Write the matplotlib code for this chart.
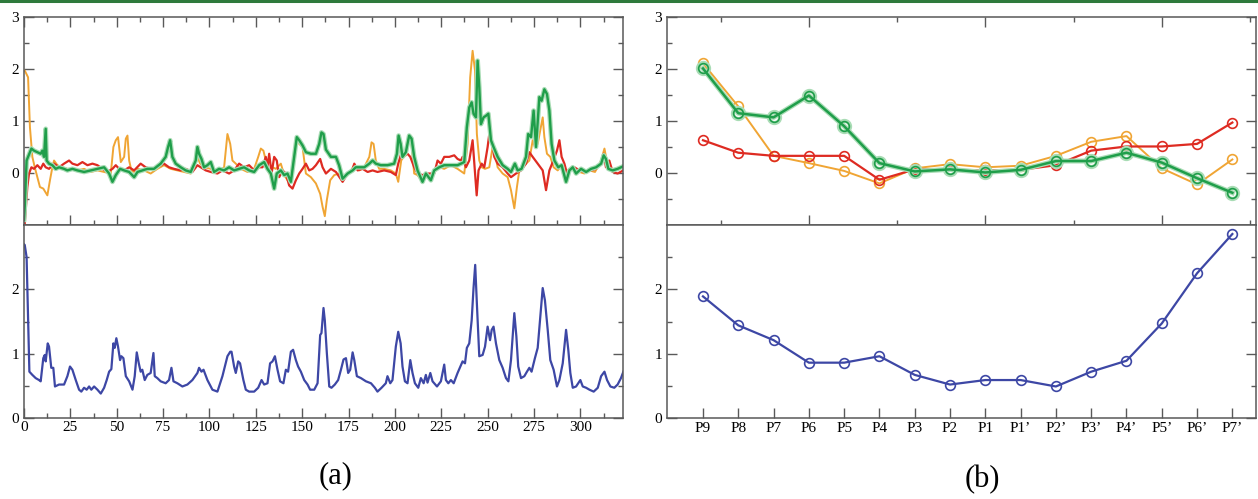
import matplotlib
matplotlib.use("Agg")
import matplotlib.pyplot as plt
import matplotlib.patheffects as pe
from matplotlib.ticker import MultipleLocator, FixedLocator, NullFormatter

# ---- panel (a): per-residue traces (frame index, value) ----
blue_x = [0.0, 0.4, 1.4, 2.2, 2.9, 4.5, 6.3, 8.1, 9.0, 10.4, 11.2, 11.7, 12.8, 13.5, 14.7, 15.8, 16.7, 18.9,
          21.6, 23.4, 24.8, 26.1, 27.9, 29.7, 30.9, 32.4, 33.8, 35.1, 36.3, 37.8, 39.6, 41.4, 43.2, 44.6,
          45.9, 47.1, 48.2, 48.9, 49.8, 50.7, 51.8, 52.5, 53.6, 54.9, 56.7, 58.5, 59.7, 60.8, 61.9, 62.9,
          63.8, 65.1, 66.5, 68.3, 69.8, 70.5, 71.9, 73.7, 76.4, 78.2, 79.5, 80.6, 82.7, 85.4, 88.1, 90.8,
          93.5, 94.4, 95.7, 96.8, 98.9, 101.6, 104.3, 107.0, 109.7, 111.2, 111.9, 113.3, 114.2, 115.5,
          116.5, 118.3, 119.6, 121.4, 124.1, 126.3, 128.1, 129.5, 131.3, 132.7, 134.0, 135.3, 136.7,
          138.1, 139.9, 141.2, 142.4, 143.9, 145.1, 146.6, 147.8, 149.3, 151.1, 152.9, 154.3, 156.5,
          158.3, 159.7, 160.4, 161.5, 162.2, 163.3, 164.6, 165.8, 167.6, 169.4, 170.9, 172.3, 173.6,
          174.8, 175.9, 177.2, 178.1, 179.5, 181.7, 184.4, 187.1, 189.2, 190.6, 192.8, 195.1, 196.0,
          197.5, 198.7, 200.5, 201.8, 203.1, 204.1, 205.4, 206.8, 208.3, 209.5, 210.8, 212.6, 214.0,
          215.5, 216.7, 217.6, 219.1, 220.3, 222.7, 224.8, 226.6, 227.5, 228.8, 230.2, 231.7, 233.8,
          236.5, 237.8, 238.8, 240.1, 241.4, 242.4, 243.3, 244.2, 245.5, 247.3, 248.6, 250.0, 251.3,
          252.2, 253.2, 254.5, 256.3, 258.1, 259.9, 261.2, 262.6, 264.4, 265.5, 266.5, 268.0, 269.8,
          271.2, 272.5, 273.7, 275.5, 277.0, 278.4, 279.7, 280.9, 282.4, 283.8, 285.6, 287.4, 288.7,
          290.5, 292.3, 293.5, 294.6, 295.9, 297.7, 300.0, 301.3, 303.1, 304.9, 307.2, 309.4, 311.2,
          313.0, 314.4, 316.2, 318.3, 320.1, 321.9, 323.2]
blue_y = [2.70, 2.69, 2.50, 1.52, 0.72, 0.67, 0.62, 0.59, 0.57, 0.93, 0.98, 0.88, 1.16, 1.11, 0.78, 0.78, 0.49, 0.52,
          0.52, 0.65, 0.80, 0.75, 0.59, 0.44, 0.41, 0.47, 0.44, 0.49, 0.44, 0.49, 0.44, 0.38, 0.47, 0.59,
          0.72, 0.76, 1.16, 1.09, 1.24, 1.11, 0.90, 0.96, 0.93, 0.65, 0.57, 0.44, 0.65, 1.02, 0.85, 0.72,
          0.75, 0.59, 0.67, 0.70, 1.01, 0.65, 0.62, 0.57, 0.54, 0.59, 0.78, 0.57, 0.54, 0.49, 0.52, 0.59,
          0.70, 0.78, 0.72, 0.75, 0.59, 0.44, 0.41, 0.65, 0.96, 1.03, 1.03, 0.80, 0.70, 0.88,
          0.85, 0.59, 0.44, 0.41, 0.41, 0.47, 0.59, 0.52, 0.54, 0.85, 0.88, 0.96, 0.75,
          0.57, 0.54, 0.75, 0.72, 1.03, 1.06, 0.90, 0.80, 0.72, 0.59, 0.52, 0.44, 0.44,
          0.54, 1.29, 1.32, 1.71, 1.52, 1.01, 0.49, 0.47, 0.52, 0.59, 0.75, 0.91, 0.93,
          0.70, 0.75, 1.02, 0.90, 0.65, 0.62, 0.57, 0.54, 0.47, 0.41, 0.47, 0.54, 0.65,
          0.54, 0.59, 1.11, 1.34, 1.16, 0.80, 0.57, 0.54, 0.90, 0.70, 0.54, 0.47, 0.62,
          0.54, 0.67, 0.55, 0.70, 0.57, 0.49, 0.57, 0.83, 0.59, 0.54, 0.59, 0.54, 0.70,
          0.88, 0.85, 1.09, 1.16, 1.52, 2.02, 2.38, 1.78, 0.96, 0.98, 1.11, 1.42, 1.21,
          1.37, 1.42, 1.16, 0.90, 0.78, 0.62, 0.57, 0.90, 1.63, 1.27, 0.80, 0.62, 0.65,
          0.72, 0.78, 0.72, 0.93, 1.09, 1.58, 2.02, 1.83, 1.37, 0.90, 0.75, 0.49, 0.59,
          0.85, 1.37, 1.06, 0.70, 0.47, 0.49, 0.59, 0.49, 0.47, 0.44, 0.41, 0.47, 0.65,
          0.72, 0.59, 0.49, 0.47, 0.52, 0.62, 0.72]

orange_x = [0.0, 0.4, 2.2, 3.2, 4.5, 5.8, 7.2, 8.6, 10.4, 12.6, 14.0, 15.3, 16.2, 18.0, 20.7, 23.4, 26.1, 28.8,
            32.4, 36.0, 39.6, 43.2, 46.8, 48.2, 49.5, 50.7, 52.2, 54.0, 54.9, 55.8, 56.7, 57.9, 59.4, 61.2,
            64.7, 68.3, 71.9, 75.5, 79.1, 82.7, 86.3, 89.9, 93.5, 95.0, 97.1, 100.7, 104.3, 107.9, 109.7,
            111.2, 112.4, 114.2, 116.9, 120.5, 124.1, 126.3, 127.7, 129.1, 130.4, 132.2, 134.0, 135.8,
            138.5, 140.3, 142.1, 143.9, 145.7, 147.1, 148.4, 150.2, 152.0, 154.7, 157.4, 159.7, 161.0,
            162.2, 163.3, 165.1, 167.3, 169.9, 172.7, 175.4, 178.1, 180.8, 183.5, 184.4, 186.2, 187.4,
            188.5, 189.7, 191.5, 194.2, 197.8, 200.5, 201.8, 203.4, 204.7, 205.9, 207.7, 209.0, 210.4,
            212.2, 214.9, 216.7, 219.4, 221.2, 223.9, 226.6, 230.2, 233.8, 237.4, 239.2, 240.6, 241.9,
            243.2, 244.2, 245.5, 246.8, 248.6, 250.9, 252.7, 254.0, 255.4, 258.1, 260.8, 262.6, 264.4,
            265.8, 267.1, 269.8, 272.5, 274.3, 275.5, 277.0, 278.4, 279.7, 280.6, 282.0, 283.8, 285.6,
            287.8, 289.9, 291.7, 294.1, 296.8, 299.5, 302.2, 304.9, 307.9, 311.2, 313.0, 314.2, 315.6,
            318.3, 321.0, 323.2]
orange_y = [1.97, 1.97, 1.84, 0.88, 0.31, 0.11, -0.08, -0.27, -0.30, -0.43, -0.14, 0.11, 0.24, 0.15, 0.11, 0.08, 0.08, 0.05,
            0.08, 0.02, 0.05, 0.02, -0.01, 0.50, 0.63, 0.69, 0.21, 0.31, 0.66, 0.72, 0.24, 0.05, 0.02, 0.08,
            0.05, -0.01, 0.08, 0.15, 0.08, 0.05, 0.02, -0.01, 0.31, 0.18, 0.11, 0.08, 0.02, 0.11, 0.75,
            0.56, 0.24, 0.18, 0.08, 0.02, 0.08, 0.31, 0.47, 0.43, 0.24, -0.01, 0.11, 0.08,
            0.18, -0.04, -0.14, -0.17, 0.24, 0.63, 0.56, 0.50, -0.01, -0.08, -0.20, -0.40, -0.65,
            -0.83, -0.52, -0.14, -0.04, -0.01, -0.08, -0.01, 0.15, 0.05, 0.11, 0.18, 0.31, 0.59,
            0.56, 0.24, 0.08, 0.08, 0.05, -0.01, -0.17, 0.24, 0.31, 0.34, 0.63, 0.53, -0.01,
            -0.04, -0.17, -0.01, -0.11, 0.02, 0.11, 0.08, 0.15, 0.08, -0.01, 0.56, 1.84, 2.35,
            1.97, 0.75, 0.24, 0.11, 0.08, 0.11, 0.50, 0.37, 0.11, -0.01, -0.08, -0.33, -0.68,
            -0.27, 0.05, 0.15, 0.24, 0.63, 0.50, 0.56, 0.82, 1.07, 0.69, 0.37, 0.31, 0.11,
            0.05, 0.15, -0.01, 0.08, 0.05, 0.02, -0.01, 0.05, 0.02, 0.24, 0.47, 0.24, 0.11,
            0.05, 0.08, 0.11]

red_x = [0.0, 0.4, 1.8, 2.7, 4.0, 5.4, 7.2, 9.0, 10.4, 11.7, 13.5, 16.2, 18.9, 21.6, 24.3, 26.1, 28.8, 31.5,
         34.2, 36.9, 39.6, 42.3, 45.0, 47.7, 49.5, 51.3, 54.0, 56.7, 59.4, 62.9, 65.6, 68.3, 71.9, 75.5,
         78.2, 80.9, 84.5, 87.2, 90.8, 93.5, 95.3, 98.0, 100.7, 104.3, 107.0, 110.6, 113.3, 116.0, 118.7,
         121.4, 124.1, 126.8, 128.6, 130.4, 131.3, 132.2, 133.5, 134.9, 136.3, 137.6, 139.4, 141.2, 143.0,
         144.8, 146.6, 148.4, 150.2, 152.0, 153.8, 155.6, 157.4, 159.7, 161.0, 162.8, 165.5, 168.2, 171.8,
         174.5, 177.2, 178.1, 179.9, 182.6, 185.3, 188.0, 190.6, 194.2, 197.8, 200.5, 201.8, 203.4, 205.0,
         206.8, 208.3, 210.4, 212.2, 214.9, 217.6, 221.2, 223.0, 224.8, 226.6, 229.3, 232.0, 233.8, 235.6,
         236.5, 238.3, 240.1, 241.9, 243.2, 244.1, 245.1, 246.8, 248.2, 250.0, 250.9, 252.2, 253.6, 255.4,
         258.1, 260.8, 262.6, 265.3, 268.0, 270.7, 272.5, 274.3, 277.0, 279.7, 281.5, 283.3, 285.1, 287.4,
         288.7, 289.9, 291.4, 292.8, 295.0, 296.8, 299.5, 302.2, 305.8, 308.5, 311.2, 312.6, 313.8, 315.6,
         317.4, 320.1, 323.2]
red_y = [-1.0, -0.97, -0.27, -0.01, 0.11, 0.08, 0.15, 0.08, 0.18, 0.11, 0.08, 0.18, 0.11, 0.18, 0.24, 0.18, 0.15, 0.21,
         0.15, 0.18, 0.15, 0.08, 0.02, 0.08, 0.15, 0.08, 0.05, 0.11, 0.05, 0.18, 0.11, 0.08, 0.11, 0.18,
         0.11, 0.08, 0.05, 0.08, 0.02, 0.15, 0.11, 0.05, 0.02, -0.01, 0.05, -0.01, 0.05, 0.18, 0.11,
         0.15, 0.05, 0.11, 0.11, 0.31, 0.11, 0.37, -0.01, 0.31, 0.24, -0.08, 0.05, -0.01, -0.24,
         -0.30, -0.14, -0.01, 0.08, 0.18, 0.05, 0.08, 0.15, 0.27, 0.11, -0.01, 0.08, 0.02, -0.17,
         -0.01, 0.08, 0.18, 0.05, 0.08, 0.02, 0.05, 0.02, 0.05, 0.02, -0.04, 0.18, 0.37, 0.34,
         0.37, 0.31, 0.11, -0.01, -0.04, -0.01, -0.01, 0.24, 0.18, 0.31, 0.31, 0.34, 0.27, 0.24,
         0.31, 0.11, 0.24, 0.63, -0.01, -0.43, 0.05, 0.18, 0.11, 0.50, 0.75, 0.63, 0.31, 0.18,
         0.11, -0.01, -0.08, -0.01, 0.05, 0.18, 0.40, 0.31, 0.18, 0.05, -0.33, 0.05, 0.21, 0.43,
         0.63, 0.31, 0.18, -0.01, 0.08, 0.11, 0.05, 0.02, 0.05, 0.08, 0.18, 0.37, 0.11, 0.24,
         0.02, -0.01, 0.05]

green_x = [0.0, 0.4, 1.4, 2.2, 4.0, 5.4, 7.2, 9.0, 9.9, 10.8, 11.7, 12.2, 13.5, 15.3, 17.1, 18.9, 21.6, 23.4,
           26.1, 28.8, 32.4, 36.0, 39.6, 43.2, 45.9, 47.7, 49.5, 51.8, 54.0, 56.7, 59.4, 61.2, 63.8, 66.5,
           70.1, 73.7, 76.4, 77.7, 78.8, 80.0, 81.8, 84.5, 87.2, 89.9, 92.6, 93.5, 94.4, 95.7, 97.1, 98.9,
           100.7, 102.5, 105.2, 107.9, 110.6, 113.3, 116.0, 118.7, 121.4, 124.1, 126.8, 129.5, 131.3,
           133.1, 134.9, 136.3, 138.5, 140.3, 142.1, 143.9, 145.7, 147.1, 148.4, 150.2, 152.0, 154.7,
           157.4, 159.2, 160.4, 161.5, 162.8, 165.5, 168.2, 169.9, 171.8, 174.5, 177.2, 178.9, 183.5,
           186.2, 188.0, 189.7, 192.4, 196.0, 199.6, 201.1, 202.0, 203.1, 204.1, 205.9, 207.7, 209.0,
           210.4, 212.2, 214.9, 216.7, 219.4, 221.2, 223.9, 226.6, 230.2, 233.8, 237.4, 238.8, 240.1,
           241.4, 242.4, 243.7, 244.6, 245.5, 246.4, 247.8, 249.1, 250.4, 251.8, 253.2, 255.4, 258.1,
           260.8, 262.6, 264.7, 266.2, 268.3, 270.7, 271.9, 273.4, 274.8, 276.1, 277.9, 279.1, 280.6,
           282.0, 283.3, 284.5, 286.0, 288.1, 289.9, 292.3, 294.1, 295.9, 297.7, 300.4, 303.1, 305.8,
           308.5, 311.2, 312.6, 313.8, 315.1, 317.4, 320.1, 323.2]
green_y = [-0.9, -0.65, 0.24, 0.31, 0.47, 0.43, 0.40, 0.37, 0.43, 0.31, 0.85, 0.24, 0.18, 0.15, 0.08, 0.11, 0.08, 0.05,
           0.08, 0.05, 0.02, 0.05, 0.08, 0.11, -0.01, -0.17, -0.04, 0.08, 0.05, 0.02, -0.08, 0.02, 0.05, 0.08,
           0.08, 0.18, 0.31, 0.50, 0.63, 0.31, 0.18, 0.11, 0.05, 0.02, 0.24, 0.50, 0.37, 0.27, 0.11, 0.15,
           0.21, 0.02, 0.08, 0.05, 0.11, 0.05, 0.08, 0.11, 0.05, 0.02, 0.15, 0.21, 0.08,
           -0.01, -0.30, -0.01, 0.05, -0.04, -0.01, -0.17, 0.31, 0.69, 0.63, 0.53, 0.40, 0.37,
           0.37, 0.56, 0.78, 0.75, 0.45, 0.31, 0.31, 0.15, -0.11, -0.01, 0.05, 0.11, 0.11,
           0.18, 0.24, 0.18, 0.15, 0.15, 0.18, 0.37, 0.72, 0.56, 0.31, 0.40, 0.72, 0.66,
           0.31, 0.05, -0.17, -0.01, -0.14, 0.05, 0.11, 0.15, 0.15, 0.15, 0.21, 0.88, 1.26,
           1.36, 1.14, 1.07, 2.16, 1.65, 0.94, 1.07, 1.10, 1.14, 0.63, 0.50, 0.31, 0.15,
           0.08, 0.02, 0.18, 0.05, 0.08, 0.31, 0.75, 0.69, 1.20, 0.50, 1.46, 1.39, 1.61,
           1.52, 1.20, 0.56, 0.24, 0.11, 0.15, -0.17, 0.05, 0.11, -0.01, 0.08, 0.02, 0.08,
           0.11, 0.18, 0.34, 0.27, 0.08, 0.05, 0.08, 0.13]

# ---- panel (b): per-position averages ----
positions = ["P9", "P8", "P7", "P6", "P5", "P4", "P3", "P2", "P1",
             "P1\u2019", "P2\u2019", "P3\u2019", "P4\u2019", "P5\u2019", "P6\u2019", "P7\u2019"]
pos_green = [2.01, 1.15, 1.07, 1.49, 0.90, 0.19, 0.03, 0.07, 0.01, 0.06, 0.23, 0.23, 0.39, 0.20, -0.10, -0.38]
pos_orange = [2.11, 1.28, 0.33, 0.19, 0.04, -0.20, 0.09, 0.17, 0.11, 0.14, 0.33, 0.60, 0.71, 0.09, -0.22, 0.26]
pos_red = [0.63, 0.39, 0.33, 0.33, 0.33, -0.13, 0.07, 0.06, 0.05, 0.06, 0.15, 0.43, 0.51, 0.51, 0.56, 0.97]
pos_blue = [1.89, 1.44, 1.21, 0.86, 0.86, 0.96, 0.67, 0.52, 0.59, 0.59, 0.49, 0.72, 0.89, 1.47, 2.25, 2.86]

ORANGE = "#f0a534"
RED = "#de2b22"
GREEN = "#1f9e4a"
GLOW = "#a9dcb5"
BLUE = "#3d47a5"
SPINE = "#595959"


def style(ax, bottom_labels):
    for s in ax.spines.values():
        s.set_color(SPINE)
        s.set_linewidth(1.1)
    ax.tick_params(which="both", direction="in", colors=SPINE, labelcolor="black",
                   labelsize=11, width=1.0, right=True)
    ax.tick_params(which="major", length=7)
    ax.tick_params(which="minor", length=3.5)
    for lab in ax.get_xticklabels() + ax.get_yticklabels():
        lab.set_family("Liberation Serif")
    if not bottom_labels:
        ax.xaxis.set_major_formatter(NullFormatter())


def main():
    fig = plt.figure(figsize=(12.58, 4.99), dpi=100)
    fig.add_artist(plt.Line2D([0, 1], [0.9975, 0.9975], color="#2e7a3c", lw=2.2, transform=fig.transFigure))

    lx, lw = 24 / 1258, 599 / 1258
    rx, rw = 667 / 1258, 589 / 1258
    tb, th = 274 / 499, 208 / 499
    bb, bh = 81 / 499, 193 / 499

    glow = [pe.Stroke(linewidth=3.4, foreground=GLOW), pe.Normal()]

    # (a) top
    ax1 = fig.add_axes([lx, tb, lw, th])
    ax1.plot(orange_x, orange_y, color=ORANGE, lw=1.4)
    ax1.plot(red_x, red_y, color=RED, lw=1.6)
    ax1.plot(green_x, green_y, color=GREEN, lw=1.7, path_effects=glow)
    ax1.set_xlim(0, 323)
    ax1.set_ylim(-1, 3)
    ax1.xaxis.set_major_locator(MultipleLocator(25))
    ax1.xaxis.set_minor_locator(MultipleLocator(12.5))
    ax1.yaxis.set_major_locator(FixedLocator([0, 1, 2, 3]))
    ax1.yaxis.set_minor_locator(FixedLocator([-0.5, 0.5, 1.5, 2.5]))
    ax1.tick_params(which="both", top=True)
    style(ax1, False)

    # (a) bottom
    ax2 = fig.add_axes([lx, bb, lw, bh])
    ax2.plot(blue_x, blue_y, color=BLUE, lw=1.6)
    ax2.set_xlim(0, 323)
    ax2.set_ylim(0, 3)
    ax2.xaxis.set_major_locator(MultipleLocator(25))
    ax2.xaxis.set_minor_locator(MultipleLocator(12.5))
    ax2.yaxis.set_major_locator(FixedLocator([0, 1, 2]))
    ax2.yaxis.set_minor_locator(FixedLocator([0.5, 1.5, 2.5]))
    style(ax2, True)
    ax2.tick_params(axis="x", pad=2)

    # (b) top
    idx = list(range(len(positions)))
    mk = dict(marker="o", ms=7, mfc="none", mew=1.2)
    ax3 = fig.add_axes([rx, tb, rw, th])
    ax3.plot(idx, pos_orange, color=ORANGE, lw=1.4, **mk)
    ax3.plot(idx, pos_red, color=RED, lw=1.6, **mk)
    ax3.plot(idx, pos_green, color=GLOW, lw=3.6, marker="o", ms=8, mfc="none", mew=3.0)
    ax3.plot(idx, pos_green, color=GREEN, lw=1.8, **mk)
    ax3.set_xlim(-1.02, 15.67)
    ax3.set_ylim(-1, 3)
    ax3.xaxis.set_major_locator(FixedLocator([3, 8, 13]))
    ax3.xaxis.set_minor_locator(FixedLocator([0.5, 5.5, 10.5, 15.5]))
    ax3.yaxis.set_major_locator(FixedLocator([0, 1, 2, 3]))
    ax3.yaxis.set_minor_locator(FixedLocator([-0.5, 0.5, 1.5, 2.5]))
    ax3.tick_params(which="both", top=True)
    style(ax3, False)

    # (b) bottom
    ax4 = fig.add_axes([rx, bb, rw, bh])
    ax4.plot(idx, pos_blue, color=BLUE, lw=1.6, **mk)
    ax4.set_xlim(-1.02, 15.67)
    ax4.set_ylim(0, 3)
    ax4.set_xticks(idx)
    ax4.set_xticklabels(positions)
    ax4.yaxis.set_major_locator(FixedLocator([0, 1, 2]))
    ax4.yaxis.set_minor_locator(FixedLocator([0.5, 1.5, 2.5]))
    style(ax4, True)
    ax4.tick_params(axis="x", pad=3)

    fig.text(336 / 1258, 1 - 476 / 499, "(a)", fontsize=22, family="Liberation Serif", ha="center", va="center")
    fig.text(982 / 1258, 1 - 480 / 499, "(b)", fontsize=22, family="Liberation Serif", ha="center", va="center")

    fig.savefig("out.png", dpi=100)


if __name__ == "__main__":
    main()
